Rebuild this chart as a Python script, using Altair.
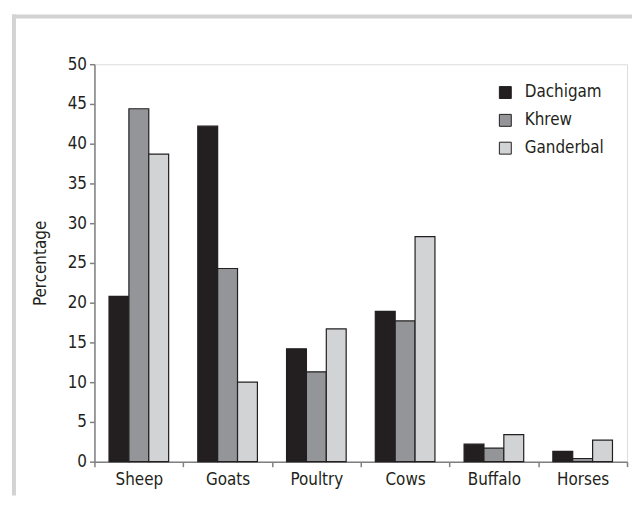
import altair as alt
import pandas as pd

animals = ["Sheep", "Goats", "Poultry", "Cows", "Buffalo", "Horses"]
sites = ["Dachigam", "Khrew", "Ganderbal"]
dachigam = [20.8, 42.2, 14.2, 18.9, 2.2, 1.3]
khrew = [44.4, 24.3, 11.3, 17.7, 1.7, 0.4]
ganderbal = [38.7, 10.0, 16.7, 28.3, 3.4, 2.7]
colors = ["#231f20", "#939598", "#d1d3d4"]
y_ticks = [0, 5, 10, 15, 20, 25, 30, 35, 40, 45, 50]

rows = []
for site, vals in zip(sites, [dachigam, khrew, ganderbal]):
    for a, v in zip(animals, vals):
        rows.append({"animal": a, "site": site, "value": v})
df = pd.DataFrame(rows)

FONT = "Liberation Sans Narrow, DejaVu Sans Condensed, sans-serif"
TXT = "#231f20"

bars = alt.Chart(df).mark_bar(stroke="#231f20", strokeWidth=1.2).encode(
    x=alt.X("animal:N", sort=animals, title=None,
            scale=alt.Scale(paddingInner=0, paddingOuter=0),
            axis=alt.Axis(labelAngle=0, tickBand="extent", tickSize=5,
                          domainColor="#808080", tickColor="#808080",
                          domainWidth=1.5, tickWidth=1.5,
                          labelFontSize=17, labelPadding=5, labelColor=TXT,
                          labelFont=FONT)),
    xOffset=alt.XOffset("site:N", sort=sites,
                        scale=alt.Scale(paddingInner=0, paddingOuter=0.733)),
    y=alt.Y("value:Q", title="Percentage",
            scale=alt.Scale(domain=[0, 50], nice=False),
            axis=alt.Axis(values=y_ticks, grid=False, tickSize=5,
                          domainColor="#808080", tickColor="#808080",
                          domainWidth=1.5, tickWidth=1.5,
                          labelFontSize=17, labelPadding=3, labelColor=TXT,
                          labelFont=FONT, titleFont=FONT, titleFontSize=17,
                          titleFontWeight="normal", titleColor=TXT,
                          titlePadding=18)),
    color=alt.Color("site:N", sort=sites,
                    scale=alt.Scale(domain=sites, range=colors),
                    legend=alt.Legend(title=None, orient="none",
                                      legendX=405, legendY=20,
                                      symbolType="square", symbolSize=144,
                                      symbolStrokeColor="#231f20",
                                      symbolStrokeWidth=1, symbolOpacity=1,
                                      labelFontSize=17, labelFont=FONT,
                                      labelColor=TXT, labelOffset=11,
                                      rowPadding=10)),
)

one = pd.DataFrame({"k": [0]})
frame_left = alt.Chart(one).mark_rule(color="#d3d3d3", strokeWidth=4).encode(
    x=alt.value(-81), y=alt.value(-50), y2=alt.value(434))
frame_top = alt.Chart(one).mark_rule(color="#d3d3d3", strokeWidth=4).encode(
    x=alt.value(-83), x2=alt.value(541), y=alt.value(-48))

chart = alt.layer(frame_left, frame_top, bars).properties(
    width=536, height=400,
    padding={"left": 2, "top": 3, "right": 0, "bottom": 0},
).configure_view(stroke=None).configure(background="white")

chart.save("out.html", embed_options={"renderer": "svg", "actions": False})
